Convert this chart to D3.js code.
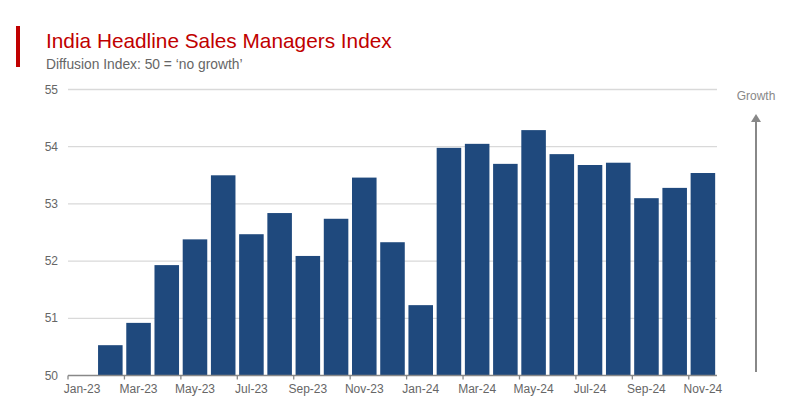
<!DOCTYPE html>
<html>
<head>
<meta charset="utf-8">
<script src="https://cdn.jsdelivr.net/npm/d3@7"></script>
<style>
  body { margin: 0; background: #fff; }
  svg { font-family: "Liberation Sans", Arial, sans-serif; }
</style>
</head>
<body>
<svg id="chart" width="800" height="400"></svg>
<script>
// months on the axis, Jan-23 has no reading
var months = ["Jan-23","Feb-23","Mar-23","Apr-23","May-23","Jun-23","Jul-23","Aug-23","Sep-23","Oct-23","Nov-23","Dec-23",
              "Jan-24","Feb-24","Mar-24","Apr-24","May-24","Jun-24","Jul-24","Aug-24","Sep-24","Oct-24","Nov-24"];
var values = [null, 50.53, 50.92, 51.93, 52.38, 53.50, 52.47, 52.84, 52.09, 52.74, 53.46, 52.33,
              51.23, 53.98, 54.05, 53.70, 54.29, 53.87, 53.68, 53.72, 53.10, 53.28, 53.54];
var yTicks = [50, 51, 52, 53, 54, 55];
var labelMonths = ["Jan-23","Mar-23","May-23","Jul-23","Sep-23","Nov-23","Jan-24","Mar-24","May-24","Jul-24","Sep-24","Nov-24"];

var svg = d3.select("#chart");

var x = d3.scaleBand().domain(months).range([68, 717]).paddingInner(0.13).paddingOuter(0.065);
var y = d3.scaleLinear().domain([50, 55]).range([375.5, 89.5]);

// title block
svg.append("rect").attr("x", 16).attr("y", 26).attr("width", 4).attr("height", 41).attr("fill", "#c00000");
svg.append("text").attr("x", 46).attr("y", 48).attr("font-size", 20.8).attr("fill", "#c00000")
  .text("India Headline Sales Managers Index");
svg.append("text").attr("x", 46).attr("y", 69).attr("font-size", 13.8).attr("fill", "#666")
  .text("Diffusion Index: 50 = \u2018no growth\u2019");

// gridlines
svg.selectAll("line.grid").data(yTicks.slice(1)).enter().append("line")
  .attr("class", "grid")
  .attr("x1", 68).attr("x2", 717)
  .attr("y1", function(d) { return y(d); }).attr("y2", function(d) { return y(d); })
  .attr("stroke", "#d9d9d9").attr("stroke-width", 1.3);

svg.selectAll("text.ylab").data(yTicks).enter().append("text")
  .attr("class", "ylab")
  .attr("x", 58).attr("y", function(d) { return y(d) + 4; })
  .attr("text-anchor", "end").attr("font-size", 12).attr("fill", "#666")
  .text(function(d) { return d; });

// bars
svg.selectAll("rect.bar").data(months.map(function(m, i) { return {m: m, v: values[i]}; }).filter(function(d) { return d.v != null; }))
  .enter().append("rect")
  .attr("class", "bar")
  .attr("x", function(d) { return x(d.m); })
  .attr("width", x.bandwidth())
  .attr("y", function(d) { return y(d.v); })
  .attr("height", function(d) { return y(50) - y(d.v); })
  .attr("fill", "#1f497d");

// x axis
svg.append("line").attr("x1", 68).attr("x2", 717).attr("y1", y(50)).attr("y2", y(50))
  .attr("stroke", "#888").attr("stroke-width", 1.3);

var step = x.step();
svg.selectAll("line.tick").data(labelMonths).enter().append("line")
  .attr("class", "tick")
  .attr("x1", function(d) { return x(d) - step * x.paddingInner() / 2; })
  .attr("x2", function(d) { return x(d) - step * x.paddingInner() / 2; })
  .attr("y1", y(50)).attr("y2", y(50) + 4)
  .attr("stroke", "#888").attr("stroke-width", 1.3);

svg.selectAll("text.xlab").data(labelMonths).enter().append("text")
  .attr("class", "xlab")
  .attr("x", function(d) { return x(d) + x.bandwidth() / 2; })
  .attr("y", 393)
  .attr("text-anchor", "middle").attr("font-size", 12).attr("fill", "#666")
  .text(function(d) { return d; });

// growth arrow
svg.append("line").attr("x1", 756).attr("x2", 756).attr("y1", 121).attr("y2", 372)
  .attr("stroke", "#888").attr("stroke-width", 2);
svg.append("path").attr("d", "M756,114 L751,122 L761,122 Z").attr("fill", "#888");
svg.append("text").attr("x", 756).attr("y", 100).attr("text-anchor", "middle")
  .attr("font-size", 12).attr("fill", "#888").text("Growth");
</script>
</body>
</html>
